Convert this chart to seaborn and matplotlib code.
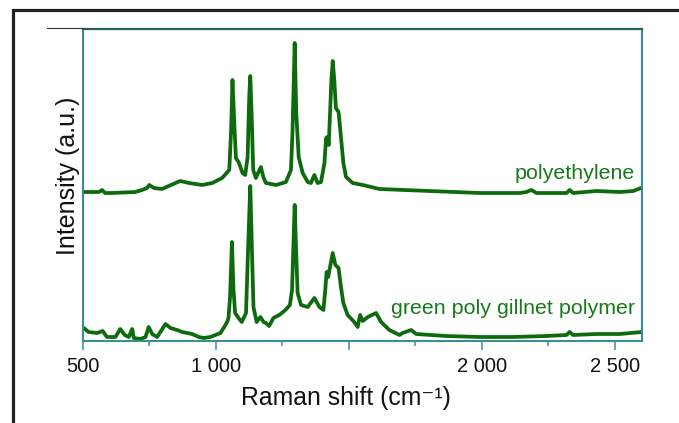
import numpy as np
import pandas as pd
import seaborn as sns
import matplotlib
matplotlib.use("Agg")
import matplotlib.pyplot as plt
from matplotlib.patches import Rectangle
from matplotlib.lines import Line2D
from matplotlib.ticker import FixedLocator, MultipleLocator

# ---------------- data ----------------
pe_shift = [504, 560, 572, 583, 609, 696, 722, 741, 749, 767, 797, 831, 865, 899,
            948, 986, 1023, 1050, 1057, 1062, 1070, 1075, 1085, 1100, 1110, 1119,
            1125, 1129, 1134, 1140, 1150, 1160, 1169, 1178, 1188, 1226, 1263, 1282,
            1288, 1296, 1302, 1311, 1326, 1345, 1357, 1370, 1382, 1395, 1408, 1414,
            1419, 1424, 1429, 1434, 1439, 1445, 1451, 1461, 1470, 1479, 1489, 1514,
            1552, 1615, 1803, 1991, 2142, 2167, 2186, 2205, 2318, 2330, 2343, 2431,
            2519, 2569, 2598]
pe_int = [149, 149, 151, 148, 148, 149, 151, 153, 156, 153, 152, 156, 160, 158,
          156, 158, 163, 171, 211, 261, 211, 183, 179, 168, 166, 184,
          244, 265, 228, 171, 163, 169, 174, 164, 158, 156, 159, 171,
          211, 298, 228, 184, 168, 159, 158, 166, 158, 159, 178, 203,
          204, 196, 228, 261, 280, 261, 233, 229, 204, 178, 164, 158,
          156, 152, 150, 148, 148, 149, 151, 148, 148, 151, 148, 150,
          149, 150, 153]

gn_shift = [503, 521, 553, 574, 590, 622, 640, 657, 672, 685, 691, 716, 735, 747,
            760, 779, 791, 810, 829, 854, 873, 910, 936, 954, 979, 998, 1017, 1031,
            1042, 1047, 1053, 1060, 1066, 1072, 1085, 1097, 1113, 1121, 1129, 1135,
            1141, 1153, 1167, 1179, 1188, 1200, 1216, 1238, 1261, 1278, 1286, 1291,
            1296, 1301, 1307, 1320, 1345, 1370, 1389, 1404, 1411, 1416, 1422, 1429,
            1439, 1449, 1461, 1470, 1479, 1495, 1520, 1533, 1542, 1552, 1571, 1602,
            1621, 1652, 1690, 1702, 1734, 1753, 1866, 1991, 2117, 2243, 2318, 2330,
            2343, 2431, 2519, 2600]
gn_int = [13, 9, 8, 10, 4, 4, 12, 6, 4, 12, 3, 2, 4, 14,
          7, 4, 9, 17, 13, 11, 9, 7, 4, 3, 4, 6, 8, 14,
          19, 23, 44, 99, 51, 28, 23, 19, 28, 94, 155, 94,
          34, 19, 24, 19, 18, 15, 23, 26, 31, 36, 51, 94,
          136, 94, 48, 36, 34, 43, 34, 31, 51, 69, 64, 74,
          88, 76, 73, 54, 38, 26, 19, 14, 26, 20, 24, 28,
          19, 11, 6, 8, 11, 7, 5, 4, 4, 5, 6, 9,
          6, 7, 7, 9]

series_names = ["polyethylene", "green poly gillnet polymer"]
tick_values = [500, 1000, 1500, 2000, 2500]
tick_labels = ["500", "1 000", "", "2 000", "2 500"]

# ---------------- styling ----------------
sns.set_style("white")
plt.rcParams["font.family"] = ["Liberation Sans", "DejaVu Sans"]

LINE = "#0d6a0d"
TEXT_GREEN = "#17791a"
TEAL = "#3a8f8f"

fig = plt.figure(figsize=(6.79, 4.23), dpi=100)
ax = fig.add_axes([83 / 679, 1 - 341 / 423, (642 - 83) / 679, (341 - 29) / 423])

df = pd.concat([
    pd.DataFrame({"shift": pe_shift, "intensity": pe_int, "sample": series_names[0]}),
    pd.DataFrame({"shift": gn_shift, "intensity": gn_int, "sample": series_names[1]}),
])
sns.lineplot(data=df, x="shift", y="intensity", units="sample", estimator=None,
             color=LINE, linewidth=2.7, ax=ax, legend=False)

ax.set_xlim(500, 2602)
ax.set_ylim(0, 312)

ax.xaxis.set_major_locator(FixedLocator(tick_values))
ax.set_xticklabels(tick_labels)
ax.xaxis.set_minor_locator(MultipleLocator(250))
ax.set_yticks([])
ax.tick_params(axis="x", which="major", direction="out", length=6.5, width=1.1,
               color=TEAL, labelsize=14.5, pad=5, labelcolor="#111111", bottom=True)
ax.tick_params(axis="x", which="minor", direction="out", length=3.6, width=1.1,
               color=TEAL, bottom=True)

for side in ["left", "right", "bottom"]:
    ax.spines[side].set_color(TEAL)
    ax.spines[side].set_linewidth(1.5)
ax.spines["top"].set_color("#245f5f")
ax.spines["top"].set_linewidth(1.6)

ax.set_xlabel("Raman shift (cm⁻¹)", fontsize=17.8, color="#111111")
ax.xaxis.set_label_coords((346 - 83) / 559, -0.143)
ax.set_ylabel("Intensity (a.u.)", fontsize=18, color="#111111")
ax.yaxis.set_label_coords(-0.005, 0.53)

ax.text(0.9875, (341 - 179) / 312, series_names[0], transform=ax.transAxes,
        ha="right", va="baseline", fontsize=15.4, color=TEXT_GREEN)
ax.text(0.9875, (341 - 314) / 312, series_names[1], transform=ax.transAxes,
        ha="right", va="baseline", fontsize=15.4, color=TEXT_GREEN)

# outer frame and small stray line as in the reference
fig.patches.append(Rectangle((12.5 / 679, -0.1), 1.2, (1 - 10.5 / 423) + 0.1,
                             transform=fig.transFigure, fill=False,
                             edgecolor="#222222", linewidth=2.3))
fig.lines.append(Line2D([47 / 679, 83 / 679], [1 - 28.5 / 423] * 2,
                        transform=fig.transFigure, color="#333333", linewidth=0.8))

fig.savefig("out.png", dpi=100)
